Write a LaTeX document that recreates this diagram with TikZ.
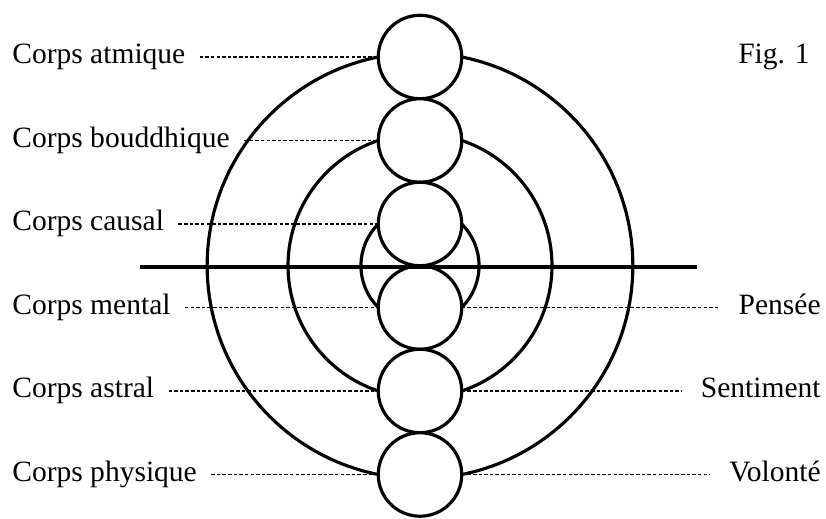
\documentclass[tikz,border=0pt]{standalone}
\usepackage{fontspec}
\setmainfont{Liberation Serif}

\begin{document}
\begin{tikzpicture}[
  x=0.02cm, y=-0.02cm,
  body/.style={circle, draw, line width=1.8pt, fill=white, minimum size=1.67cm,
               inner sep=0pt, outer sep=0pt},
  ring/.style={line width=1.8pt},
  dots/.style={line width=0.8pt, dash pattern=on 2pt off 1.2pt},
  lefttext/.style={anchor=west, inner sep=0pt, text height=11.5pt, text depth=3.6pt,
                   font=\fontsize{16.8}{20}\selectfont},
  righttext/.style={lefttext, anchor=east},
]
\useasboundingbox (0,0) rectangle (826,519);

\coordinate (mid) at (420,265.75);
\draw[ring] (mid) circle[radius=4.258cm];
\draw[ring] (mid) circle[radius=2.640cm];
\draw[ring] (mid) circle[radius=1.181cm];

\node[body] (c1) at (420,57) {};
\node[body] (c2) at (420,140.5) {};
\node[body] (c3) at (420,224) {};
\node[body] (c4) at (420,307.5) {};
\node[body] (c5) at (420,391) {};
\node[body] (c6) at (420,474.5) {};

\node[lefttext] (atmique) at (12,57) {Corps atmique};
\node[lefttext] (bouddhique) at (12,140.5) {Corps bouddhique};
\node[lefttext] (causal) at (12,224) {Corps causal};
\node[lefttext] (mental) at (12,307.5) {Corps mental};
\node[lefttext] (astral) at (12,391) {Corps astral};
\node[lefttext] (physique) at (12,474.5) {Corps physique};

\node[righttext] (fig) at (810,57) {Fig. 1};
\node[righttext] (pensee) at (821,307.5) {Pensée};
\node[righttext] (sentiment) at (821,391) {Sentiment};
\node[righttext] (volonte) at (821,474.5) {Volonté};

\draw[dots, shorten <=8pt] (atmique.east) -- (c1.west);
\draw[dots, shorten <=8pt] (bouddhique.east) -- (c2.west);
\draw[dots, shorten <=8pt] (causal.east) -- (c3.west);
\draw[dots, shorten <=8pt] (mental.east) -- (c4.west);
\draw[dots, shorten <=8pt] (astral.east) -- (c5.west);
\draw[dots, shorten <=8pt] (physique.east) -- (c6.west);
\draw[dots, shorten >=11pt] (c4.east) -- (pensee.west);
\draw[dots, shorten >=11pt] (c5.east) -- (sentiment.west);
\draw[dots, shorten >=11pt] (c6.east) -- (volonte.west);

\coordinate (axisL) at (140,267);
\coordinate (axisR) at (697,267);
\draw[ring] (axisL) -- (axisR);

\end{tikzpicture}
\end{document}
